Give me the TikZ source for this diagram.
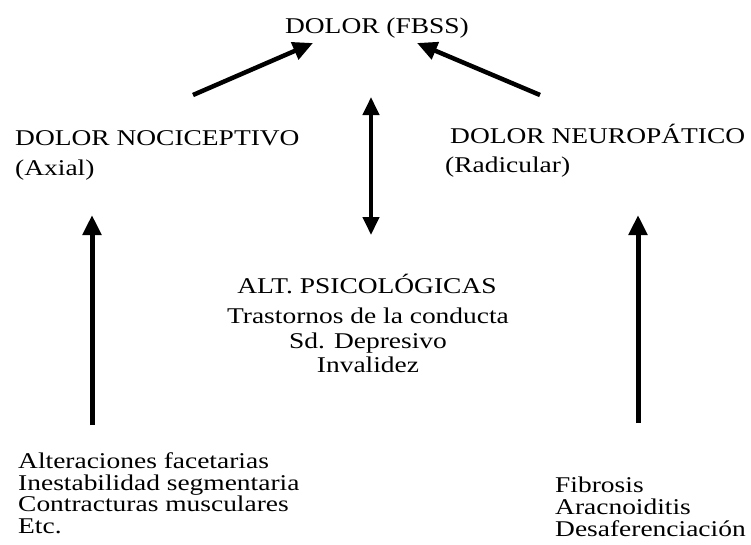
\documentclass[tikz,border=0pt]{standalone}
\usepackage{fontspec}
\setmainfont{Liberation Serif}[FakeStretch=1.22]
\usetikzlibrary{arrows.meta}
\begin{document}
\begin{tikzpicture}[x=1pt,y=-1pt,
  txt/.style={font=\fontsize{22.5}{21.6}\selectfont, inner sep=0pt},
  arr/.style={line width=4.5pt, -{Triangle[length=20pt,width=18pt]}},
  darr/.style={line width=4.2pt, {Triangle[length=18pt,width=16pt]}-{Triangle[length=18pt,width=16pt]}}]
\useasboundingbox (0,0) rectangle (751,544);
% texts
\node[txt, anchor=base] (top) at (377,33) {DOLOR (FBSS)};
\node[txt, anchor=base west] (noci) at (15,145) {DOLOR NOCICEPTIVO};
\node[txt, anchor=base west] (axial) at (15,175) {(Axial)};
\node[txt, anchor=base west] (neuro) at (450,143) {DOLOR NEUROPÁTICO};
\node[txt, anchor=base west] (radic) at (445,172) {(Radicular)};
\node[txt, anchor=base] (psico) at (367,293) {ALT. PSICOLÓGICAS};
\node[txt, anchor=base] (ps1) at (368,323) {Trastornos de la conducta};
\node[txt, anchor=base] (ps2) at (368,348) {Sd. Depresivo};
\node[txt, anchor=base] (ps3) at (368,372) {Invalidez};
\node[txt, anchor=base west] (l1) at (18,468) {Alteraciones facetarias};
\node[txt, anchor=base west] (l2) at (18,490) {Inestabilidad segmentaria};
\node[txt, anchor=base west] (l3) at (18,511) {Contracturas musculares};
\node[txt, anchor=base west] (l4) at (18,533) {Etc.};
\node[txt, anchor=base west] (r1) at (555,492) {Fibrosis};
\node[txt, anchor=base west] (r2) at (555,514) {Aracnoiditis};
\node[txt, anchor=base west] (r3) at (555,536) {Desaferenciación};
% arrow ends
\coordinate (la0) at (92,425);
\coordinate (la1) at (92,215);
\coordinate (ra0) at (638,423);
\coordinate (ra1) at (638,215);
\coordinate (m0) at (371,97);
\coordinate (m1) at (371,235);
\coordinate (d0) at (193,95);
\coordinate (d1) at (313,43);
\coordinate (e0) at (540,95);
\coordinate (e1) at (417,43);
% arrows
\draw[arr, line width=5pt] (la0) -- (la1);
\draw[arr, line width=5pt] (ra0) -- (ra1);
\draw[darr] (m0) -- (m1);
\draw[arr] (d0) -- (d1);
\draw[arr] (e0) -- (e1);
\end{tikzpicture}
\end{document}
